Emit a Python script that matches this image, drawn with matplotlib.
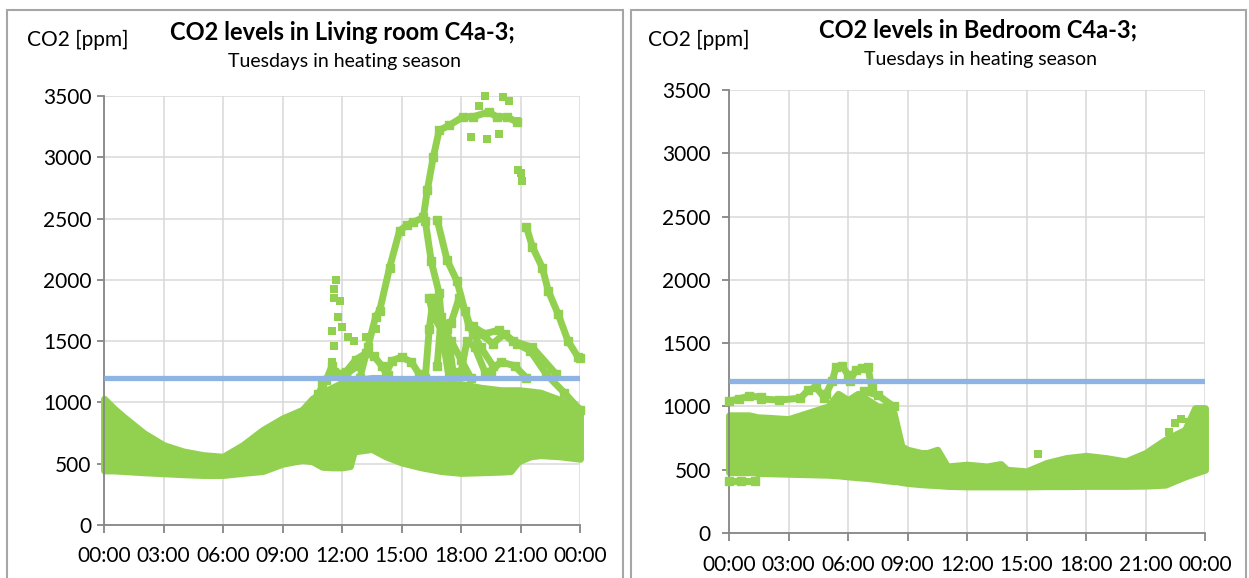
import numpy as np
import matplotlib.pyplot as plt
from matplotlib.patches import Rectangle

# ==========================
# Data
# ==========================
hour_ticks = [0, 3, 6, 9, 12, 15, 18, 21, 24]
hour_labels = ["00:00", "03:00", "06:00", "09:00", "12:00", "15:00", "18:00", "21:00", "00:00"]
ppm_ticks = [0, 500, 1000, 1500, 2000, 2500, 3000, 3500]
limit_h = [0, 24]
limit_ppm = [1200, 1200]

# Living room: dense band of overlapping days
lr_band_h = [0, 0.5, 1, 2, 3, 4, 5, 6, 7, 8, 9, 10, 10.5, 11, 11.5, 12, 12.4, 12.6,
             13.5, 14.2, 15, 16, 17, 18, 19, 20, 20.5, 20.9, 21.5, 22, 23, 24]
lr_band_lo = [445, 445, 440, 430, 422, 414, 408, 408, 425, 440, 500, 530, 520, 475, 470,
              470, 480, 600, 620, 560, 510, 470, 440, 425, 430, 435, 440, 520, 560, 570, 560, 540]
lr_band_hi = [1030, 950, 880, 750, 652, 600, 570, 557, 652, 775, 870, 940, 1030, 1080, 1120,
              1160, 1180, 1180, 1200, 1200, 1180, 1160, 1150, 1150, 1120, 1100, 1100, 1100, 1090,
              1080, 1020, 950]

# Living room: excursions (one list pair per day trace)
lr_traces = [
    ([12.9, 13.3, 13.7, 13.9, 14.4, 14.9, 15.3, 15.6, 16.1, 16.3, 16.6, 16.9, 17.4, 18.1, 18.6, 19.4, 19.8, 20.3, 20.8],
     [1200, 1450, 1700, 1750, 2100, 2400, 2450, 2470, 2510, 2730, 3000, 3220, 3260, 3330, 3330, 3370, 3330, 3330, 3290]),
    ([16.8, 17.3, 17.8, 18.4, 19.0, 19.6, 20.2, 20.8, 21.5, 22.3, 23.2, 24.0],
     [2490, 2160, 1990, 1620, 1560, 1480, 1560, 1480, 1420, 1230, 1080, 940]),
    ([16.2, 16.5, 16.9, 17.1, 17.4], [2480, 2150, 1890, 1500, 1200]),
    ([16.4, 16.6, 17.0, 17.5, 18.0, 18.5], [1850, 1700, 1600, 1500, 1350, 1200]),
    ([17.5, 17.9, 18.2, 18.6, 19.0, 19.6], [1650, 1850, 1750, 1560, 1450, 1300]),
    ([18.6, 19.2, 19.9, 20.6, 21.6, 22.8], [1620, 1560, 1590, 1500, 1450, 1230]),
    ([21.3, 21.6, 22.1, 22.4, 22.9, 23.4, 23.9, 24.0], [2430, 2270, 2100, 1910, 1720, 1500, 1370, 1360]),
    ([10.3, 10.8, 11.2, 11.5], [940, 1070, 1180, 1300]),
    ([12.2, 12.7, 13.2, 13.6, 14.0, 14.3], [1250, 1350, 1400, 1380, 1300, 1220]),
    ([14.2, 14.5, 15.0, 15.5, 15.9], [1220, 1340, 1370, 1330, 1230]),
    ([16.2, 16.4, 16.6, 16.9], [1200, 1600, 1850, 1700]),
    ([16.8, 17.0, 17.3, 17.6], [1300, 1700, 1600, 1250]),
    ([18.0, 18.3, 18.7, 19.2], [1250, 1500, 1450, 1250]),
    ([19.5, 20.0, 20.7, 21.3], [1250, 1330, 1300, 1200]),
    ([11.0, 11.6, 12.2, 12.8], [1150, 1250, 1230, 1300]),
]
# Living room: scattered single readings
lr_pts_h = [11.6, 11.7, 11.6, 11.9, 11.8, 11.5, 12.0, 12.3, 11.6, 11.5, 12.6, 13.2, 13.7,
            18.5, 18.9, 19.2, 19.3, 19.9, 20.1, 20.4, 20.8, 20.85, 21.0, 21.1]
lr_pts_v = [1927, 1995, 1850, 1830, 1695, 1586, 1614, 1532, 1464, 1328, 1505, 1532, 1600,
            3165, 3420, 3500, 3150, 3190, 3490, 3460, 3300, 2900, 2870, 2810]

# Bedroom: dense band
bd_band_h = [0, 1, 1.3, 1.4, 2, 3, 4, 5, 5.5, 6, 6.5, 7, 7.5, 8, 8.3, 8.5, 8.7, 9, 9.7, 10,
             10.5, 11, 12, 13, 13.7, 14, 15, 16, 17, 18, 19, 20, 21, 22, 23, 23.5, 24]
bd_band_lo = [480, 480, 480, 474, 472, 468, 464, 460, 455, 447, 440, 434, 425, 415, 410, 408,
              402, 395, 385, 382, 378, 372, 368, 368, 368, 368, 368, 370, 370, 372, 372, 372,
              374, 382, 447, 474, 500]
bd_band_hi = [930, 930, 920, 915, 910, 900, 950, 1000, 1100, 1050, 1100, 1050, 1000, 1000, 950,
              816, 684, 658, 632, 632, 658, 526, 540, 526, 545, 500, 487, 553, 592, 610, 592,
              566, 632, 737, 816, 987, 987]

bd_traces = [
    ([0, 0.6, 1.3], [410, 410, 410]),
    ([0, 0.5, 1.0, 1.6], [1040, 1060, 1080, 1075]),
    ([1.6, 2.5, 3.6, 4.0, 4.4, 4.8], [1060, 1050, 1065, 1130, 1150, 1070]),
    ([4.9, 5.2, 5.4, 5.7, 6.0], [1100, 1200, 1310, 1320, 1250]),
    ([6.1, 6.4, 6.7, 7.0, 7.2], [1200, 1290, 1300, 1310, 1150]),
    ([6.8, 7.5, 8.3], [1120, 1090, 1000]),
]
bd_pts_h = [15.6, 22.2, 22.5, 22.8, 23.2, 23.6]
bd_pts_v = [625, 800, 870, 900, 880, 960]

# ==========================
# Style
# ==========================
GREEN = "#92D050"
BLUE = "#8DB4E2"
GRID = "#D9D9D9"
AXIS = "#868686"
FRAME = "#A6A6A6"

plt.rcParams["font.family"] = ["Lato", "DejaVu Sans"]

fig = plt.figure(figsize=(12.49, 5.78), dpi=100)

# panel frames
for x0, w in [(7 / 1249, 616 / 1249), (631 / 1249, 615 / 1249)]:
    fig.patches.append(Rectangle((x0, -0.05), w, 1.05 - 10 / 578, transform=fig.transFigure,
                                 fill=False, edgecolor=FRAME, lw=1.5))


def draw_panel(ax, band_h, band_lo, band_hi, traces, pts_h, pts_v, xpad, ypad):
    ax.fill_between(band_h, band_lo, band_hi, color=GREEN, lw=5, edgecolor=GREEN,
                    clip_on=False, zorder=2)
    for th, tv in traces:
        ax.plot(th, tv, color=GREEN, lw=5, marker="s", ms=6, mec=GREEN,
                solid_capstyle="butt", clip_on=False, zorder=3)
    ax.scatter(pts_h, pts_v, marker="s", s=40, color=GREEN, lw=0, clip_on=False, zorder=3)
    ax.plot(limit_h, limit_ppm, color=BLUE, lw=3.8, solid_capstyle="butt", zorder=4)

    ax.set_xlim(0, 24)
    ax.set_ylim(0, 3500)
    ax.set_xticks(hour_ticks)
    ax.set_xticklabels(hour_labels)
    ax.set_yticks(ppm_ticks)
    ax.grid(True, color=GRID, lw=1.1)
    ax.set_axisbelow(True)
    for s in ["top", "right"]:
        ax.spines[s].set_visible(False)
    for s in ["left", "bottom"]:
        ax.spines[s].set_color(AXIS)
        ax.spines[s].set_linewidth(1.3)
    ax.tick_params(axis="x", length=6, width=1.3, color=AXIS, labelsize=15, pad=xpad)
    ax.tick_params(axis="y", length=5, width=1.3, color=AXIS, labelsize=15, pad=ypad)


ax1 = fig.add_axes([104 / 1249, 1 - 525 / 578, 476 / 1249, 429 / 578])
draw_panel(ax1, lr_band_h, lr_band_lo, lr_band_hi, lr_traces, lr_pts_h, lr_pts_v, 9, 4)

ax2 = fig.add_axes([729 / 1249, 1 - 533 / 578, 476 / 1249, 443 / 578])
draw_panel(ax2, bd_band_h, bd_band_lo, bd_band_hi, bd_traces, bd_pts_h, bd_pts_v, 10, 8)

# titles
fig.text(342 / 1249, 1 - 33 / 578, "CO2 levels in Living room C4a-3;", ha="center", va="center",
         fontsize=17, fontweight="bold")
fig.text(345 / 1249, 1 - 62 / 578, "Tuesdays in heating season", ha="center", va="center", fontsize=14)
fig.text(27 / 1249, 1 - 40 / 578, "CO2 [ppm]", ha="left", va="center", fontsize=15)

fig.text(978 / 1249, 1 - 30 / 578, "CO2 levels in Bedroom C4a-3;", ha="center", va="center",
         fontsize=17, fontweight="bold")
fig.text(980 / 1249, 1 - 60 / 578, "Tuesdays in heating season", ha="center", va="center", fontsize=14)
fig.text(648 / 1249, 1 - 40 / 578, "CO2 [ppm]", ha="left", va="center", fontsize=15)

plt.savefig("out.png", dpi=100)
